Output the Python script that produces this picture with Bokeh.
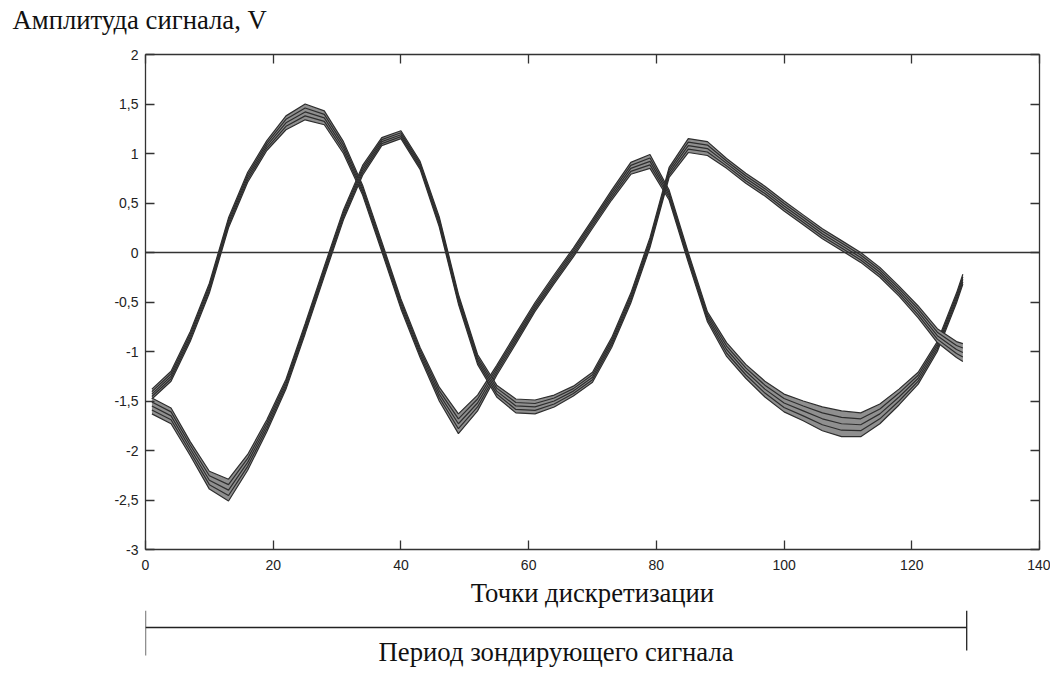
from bokeh.plotting import figure
from bokeh.models import Range1d, FixedTicker, LinearAxis, Span
from bokeh.layouts import column
from bokeh.embed import file_html
from bokeh.resources import INLINE
from bokeh.core.properties import value
import numpy as np

# ---- data ----
samples = [1, 4, 7, 10, 13, 16, 19, 22, 25, 28, 31, 34, 37, 40, 43, 46, 49, 52, 55, 58,
           61, 64, 67, 70, 73, 76, 79, 82, 85, 88, 91, 94, 97, 100, 103, 106, 109, 112,
           115, 118, 121, 124, 127, 128]

# bundle 1 (starts rising): centre of the bundle and half its thickness
bundle_a_mid = [-1.43, -1.25, -0.85, -0.36, 0.30, 0.76, 1.08, 1.31, 1.42, 1.36,
                1.06, 0.63, 0.06, -0.52, -1.01, -1.43, -1.73, -1.52, -1.19, -0.87,
                -0.55, -0.27, 0.00, 0.29, 0.58, 0.85, 0.92, 0.58, -0.05, -0.65,
                -0.98, -1.20, -1.38, -1.52, -1.60, -1.68, -1.73, -1.74, -1.63, -1.46,
                -1.27, -0.95, -0.46, -0.27]
bundle_a_half = [0.05, 0.05, 0.05, 0.05, 0.05, 0.05, 0.05, 0.07, 0.08, 0.07,
                 0.06, 0.05, 0.05, 0.05, 0.05, 0.07, 0.10, 0.08, 0.05, 0.05,
                 0.045, 0.045, 0.045, 0.045, 0.05, 0.06, 0.07, 0.05, 0.05, 0.05,
                 0.07, 0.07, 0.08, 0.09, 0.10, 0.12, 0.13, 0.12, 0.10, 0.08,
                 0.06, 0.05, 0.05, 0.05]

# bundle 2 (starts falling)
bundle_b_mid = [-1.55, -1.65, -1.98, -2.30, -2.40, -2.12, -1.75, -1.33, -0.77, -0.19,
                0.38, 0.83, 1.12, 1.19, 0.88, 0.31, -0.47, -1.08, -1.40, -1.55,
                -1.56, -1.50, -1.40, -1.26, -0.91, -0.46, 0.10, 0.81, 1.08, 1.05,
                0.90, 0.75, 0.62, 0.47, 0.33, 0.19, 0.07, -0.05, -0.20, -0.39,
                -0.60, -0.84, -0.98, -1.01]
bundle_b_half = [0.08, 0.08, 0.07, 0.09, 0.11, 0.08, 0.06, 0.05, 0.05, 0.05,
                 0.05, 0.05, 0.04, 0.04, 0.04, 0.05, 0.05, 0.05, 0.06, 0.07,
                 0.07, 0.06, 0.05, 0.05, 0.05, 0.05, 0.05, 0.05, 0.07, 0.07,
                 0.05, 0.05, 0.05, 0.05, 0.05, 0.05, 0.05, 0.05, 0.05, 0.05,
                 0.06, 0.07, 0.08, 0.09]

x_ticks = [0, 20, 40, 60, 80, 100, 120, 140]
y_ticks = [-3, -2.5, -2, -1.5, -1, -0.5, 0, 0.5, 1, 1.5, 2]
y_tick_labels = ["-3", "-2,5", "-2", "-1,5", "-1", "-0,5", "0", "0,5", "1", "1,5", "2"]

period_start = 0
period_end = 128.6

title_text = "Амплитуда сигнала, V"
x_label = "Точки дискретизации"
period_label = "Период зондирующего сигнала"

# ---- layout constants ----
W = 1050
H_TITLE = 40
H_MAIN = 570
H_BR = 65
LEFT = 145
RIGHT = 11
TOP = 14
SERIF = "Liberation Serif"
SANS = "Liberation Sans"
BIG = "26.7px"
AX = "#333333"


def blank_figure(height, x_range, y_range, **kw):
    f = figure(width=W, height=height, x_range=x_range, y_range=y_range,
               output_backend="svg", toolbar_location=None,
               x_axis_type=None, y_axis_type=None,
               min_border_left=LEFT, min_border_right=RIGHT, min_border_top=0,
               min_border_bottom=0, background_fill_color="white",
               border_fill_color="white", **kw)
    f.grid.visible = False
    f.outline_line_color = None
    return f

# ---- strip holding the y quantity name above the plot, as in the original ----
pt = blank_figure(H_TITLE, Range1d(0, 1), Range1d(0, 1), title=title_text)
pt.title.align = "left"
pt.title.offset = 12 - LEFT
pt.title.text_font = SERIF
pt.title.text_font_size = BIG
pt.title.text_font_style = "normal"
pt.title.text_color = "#111111"
pt.title.standoff = 4

# ---- main chart ----
p = figure(width=W, height=H_MAIN, x_range=Range1d(0, 140), y_range=Range1d(-3, 2),
           output_backend="svg", toolbar_location=None,
           min_border_left=LEFT, min_border_right=RIGHT, min_border_top=TOP,
           min_border_bottom=60, background_fill_color="white",
           border_fill_color="white")
p.grid.visible = False
p.outline_line_color = None

xs = np.array(samples, dtype=float)
for mid, half in ((bundle_a_mid, bundle_a_half), (bundle_b_mid, bundle_b_half)):
    mid = np.array(mid)
    half = np.array(half)
    lo = mid - half
    hi = mid + half
    p.varea(x=xs, y1=lo, y2=hi, fill_color="#8f8f8f")
    for yy in (lo, (lo + mid) / 2, mid, (mid + hi) / 2, hi):
        p.line(xs, yy, line_color="#2e2e2e", line_width=1.2)

p.add_layout(Span(location=0, dimension="width", line_color=AX, line_width=1.3))

def style_axis(ax):
    ax.major_tick_in = 9
    ax.major_tick_out = 0
    ax.minor_tick_in = 0
    ax.minor_tick_out = 0
    ax.axis_line_color = AX
    ax.axis_line_width = 1.3
    ax.major_tick_line_color = AX
    ax.major_tick_line_width = 1.3
    ax.major_label_text_font = SANS
    ax.major_label_text_font_size = "14px"
    ax.major_label_text_color = "#222222"

xb = p.xaxis[0]
xb.ticker = FixedTicker(ticks=x_ticks, minor_ticks=[])
style_axis(xb)
xb.major_label_standoff = 10
xb.axis_label = x_label
xb.axis_label_text_font = SERIF
xb.axis_label_text_font_size = BIG
xb.axis_label_text_font_style = "normal"
xb.axis_label_text_color = "#111111"
xb.axis_label_standoff = 5

yl = p.yaxis[0]
yl.ticker = FixedTicker(ticks=y_ticks, minor_ticks=[])
yl.major_label_overrides = dict(zip(y_ticks, y_tick_labels))
style_axis(yl)
yl.major_label_standoff = 7

xt = LinearAxis(ticker=FixedTicker(ticks=x_ticks, minor_ticks=[]))
style_axis(xt)
xt.major_label_overrides = {t: "" for t in x_ticks}
xt.major_label_standoff = 0
p.add_layout(xt, "above")

yr = LinearAxis(ticker=FixedTicker(ticks=y_ticks, minor_ticks=[]))
style_axis(yr)
yr.major_label_overrides = {t: "" for t in y_ticks}
yr.major_label_standoff = 0
p.add_layout(yr, "right")

# ---- period bracket under the chart ----
pb = blank_figure(H_BR, p.x_range, Range1d(H_BR, 0))
pb.segment(x0=[period_start, period_start, period_end],
           y0=[17, 0, 0],
           x1=[period_end, period_start, period_end],
           y1=[17, 45, 40], line_color="#222222", line_width=1.3)
pb.text(x=[(period_start + period_end) / 2], y=[41], text=[period_label],
        text_align="center", text_baseline="middle",
        text_font=value(SERIF), text_font_size=BIG, text_color="#111111")

layout = column(pt, p, pb, spacing=0)
open("out.html", "w").write(file_html(layout, INLINE))
